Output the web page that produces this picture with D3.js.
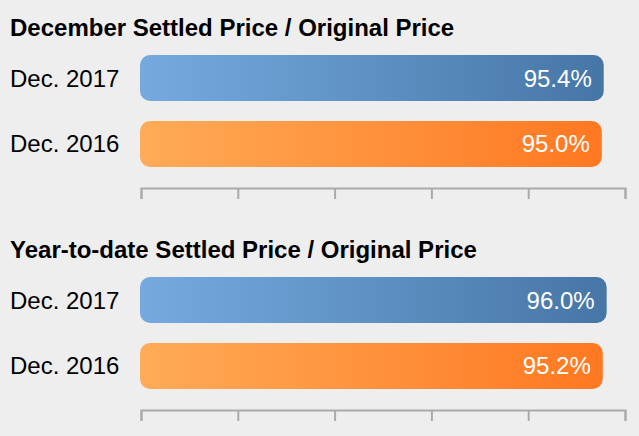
<!DOCTYPE html>
<html>
<head>
<meta charset="utf-8">
<script src="https://cdn.jsdelivr.net/npm/d3@7"></script>
<style>
  html, body { margin: 0; padding: 0; background: #eeeeee; }
  svg { display: block; font-family: "Liberation Sans", Arial, sans-serif; }
</style>
</head>
<body>
<svg id="chart" width="639" height="436"></svg>
<script>
const categories = ["Dec. 2017", "Dec. 2016"];
const panelTitles = ["December Settled Price / Original Price", "Year-to-date Settled Price / Original Price"];
const decemberValues = [95.4, 95.0];
const ytdValues = [96.0, 95.2];
const tickValues = [0, 20, 40, 60, 80, 100];

const panels = [
  { title: panelTitles[0], values: decemberValues, top: 0 },
  { title: panelTitles[1], values: ytdValues, top: 222 }
];

const svg = d3.select("#chart");
const W = 639, H = 436;
svg.append("rect").attr("width", W).attr("height", H).attr("fill", "#eeeeee");

const defs = svg.append("defs");
const grads = [
  { id: "gBlue", c0: "#76aadf", c1: "#4676a6" },
  { id: "gOrange", c0: "#ffab57", c1: "#ff7821" }
];
grads.forEach(g => {
  const lg = defs.append("linearGradient").attr("id", g.id)
    .attr("x1", "0%").attr("x2", "100%").attr("y1", "0%").attr("y2", "0%");
  lg.append("stop").attr("offset", "0%").attr("stop-color", g.c0);
  lg.append("stop").attr("offset", "100%").attr("stop-color", g.c1);
});
const fills = ["url(#gBlue)", "url(#gOrange)"];

const x = d3.scaleLinear().domain([0, 100]).range([141, 625]);
const fontSize = 24;

panels.forEach(p => {
  const g = svg.append("g").attr("transform", `translate(0,${p.top})`);
  g.append("text").attr("x", 10).attr("y", 36)
    .attr("font-size", fontSize).attr("font-weight", "bold").attr("fill", "#000")
    .text(p.title);

  const y = d3.scaleBand().domain(categories).range([55, 167]).paddingInner(0.303).paddingOuter(0);

  categories.forEach((c, i) => {
    const v = p.values[i];
    const yy = y(c), bh = y.bandwidth();
    g.append("text").attr("x", 10).attr("y", yy + bh / 2 + 8.5)
      .attr("font-size", fontSize).attr("fill", "#000").text(c);
    const x0 = x(0) - 1, x1 = x(v) + 1;
    g.append("rect").attr("x", x0).attr("y", yy).attr("width", x1 - x0).attr("height", bh)
      .attr("rx", 10).attr("ry", 10).attr("fill", fills[i]);
    g.append("text").attr("x", x1 - 12).attr("y", yy + bh / 2 + 8.5)
      .attr("text-anchor", "end").attr("font-size", fontSize).attr("fill", "#fff")
      .text(d3.format(".1f")(v) + "%");
  });

  const axis = d3.axisBottom(x).tickValues(tickValues).tickSize(11).tickSizeOuter(11).tickFormat("");
  const ag = g.append("g").attr("transform", "translate(0,188)").call(axis);
  ag.selectAll("path, line").attr("stroke", "#aaaaaa").attr("stroke-width", 2);
});
</script>
</body>
</html>
